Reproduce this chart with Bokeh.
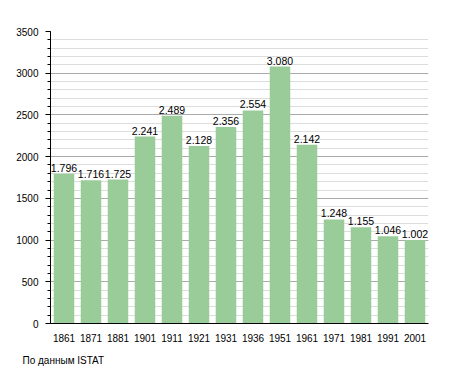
from bokeh.plotting import figure
from bokeh.models import ColumnDataSource, FactorRange, Range1d, SingleIntervalTicker, Title, LabelSet
from bokeh.core.properties import value
from bokeh.embed import file_html
from bokeh.resources import INLINE

years = ["1861", "1871", "1881", "1901", "1911", "1921", "1931", "1936", "1951", "1961", "1971", "1981", "1991", "2001"]
population = [1796, 1716, 1725, 2241, 2489, 2128, 2356, 2554, 3080, 2142, 1248, 1155, 1046, 1002]
value_labels = ["1.796", "1.716", "1.725", "2.241", "2.489", "2.128", "2.356", "2.554", "3.080", "2.142", "1.248", "1.155", "1.046", "1.002"]
source_note = "По данным  ISTAT"

FONT = "Liberation Sans"

src = ColumnDataSource(dict(x=years, top=population, lab=value_labels))

p = figure(width=450, height=373, x_range=FactorRange(*years, range_padding=0),
           y_range=Range1d(0, 3500), output_backend="svg", toolbar_location=None,
           min_border_left=50, min_border_right=22, min_border_top=31, min_border_bottom=10)
p.outline_line_color = None
p.background_fill_color = "white"

p.vbar(x="x", top="top", width=0.76, source=src, fill_color="#99cc99", line_color=None)

labels = LabelSet(x="x", y="top", text="lab", source=src, text_align="center",
                  text_baseline="bottom", y_offset=2, text_font=value(FONT),
                  text_font_size=value("10.5px"), text_color="black")
p.add_layout(labels)

p.yaxis.ticker = SingleIntervalTicker(interval=500, num_minor_ticks=5)
p.yaxis.major_tick_out = 5
p.yaxis.major_tick_in = 0
p.yaxis.minor_tick_out = 3
p.yaxis.minor_tick_in = 0
p.yaxis.axis_line_color = "black"
p.yaxis.major_tick_line_color = "black"
p.yaxis.minor_tick_line_color = "black"
p.yaxis.major_label_text_font = FONT
p.yaxis.major_label_text_font_size = "10px"
p.yaxis.major_label_text_color = "black"
p.yaxis.major_label_standoff = 7

p.xaxis.major_tick_line_color = None
p.xaxis.minor_tick_line_color = None
p.xaxis.axis_line_color = "black"
p.xaxis.major_label_text_font = FONT
p.xaxis.major_label_text_font_size = "10px"
p.xaxis.major_label_text_color = "black"
p.xaxis.major_label_standoff = 4

p.xgrid.grid_line_color = None
p.ygrid.grid_line_color = "#aaaaaa"
p.ygrid.minor_grid_line_color = "#dddddd"

note = Title(text=source_note, align="left", offset=-28, standoff=16,
             text_font=FONT, text_font_size="10px", text_color="black",
             text_font_style="normal")
p.add_layout(note, "below")

open("out.html", "w").write(file_html(p, INLINE))
